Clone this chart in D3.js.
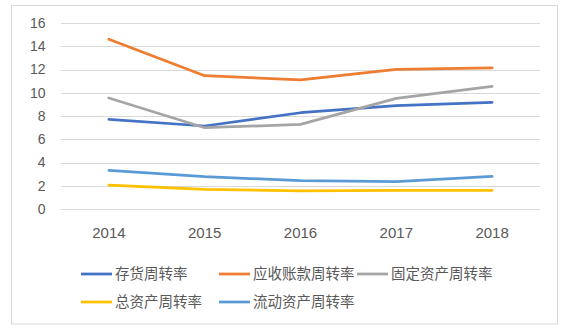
<!DOCTYPE html>
<html><head><meta charset="utf-8">
<script src="https://cdn.jsdelivr.net/npm/d3@7"></script>
<style>
html,body{margin:0;padding:0;background:#fff;}
svg{display:block;font-family:"Liberation Sans","Noto Sans CJK SC",sans-serif;}
</style></head>
<body><svg id="c" width="579" height="331"></svg>
<script>
const years = ["2014","2015","2016","2017","2018"];
const seriesNames = ["存货周转率","应收账款周转率","固定资产周转率","总资产周转率","流动资产周转率"];
const inventory = [7.72, 7.14, 8.28, 8.89, 9.18];
const receivables = [14.6, 11.47, 11.1, 12.02, 12.13];
const fixedAssets = [9.55, 6.99, 7.28, 9.52, 10.55];
const totalAssets = [2.06, 1.69, 1.55, 1.6, 1.6];
const currentAssets = [3.33, 2.78, 2.44, 2.35, 2.81];
const colors = ["#4472C4","#ED7D31","#A5A5A5","#FFC000","#5B9BD5"];
const yTicks = [0,2,4,6,8,10,12,14,16];

const series = [inventory, receivables, fixedAssets, totalAssets, currentAssets];
const svg = d3.select("#c");
svg.append("rect").attr("x",11.5).attr("y",5.5).attr("width",546).attr("height",318.5)
  .attr("fill","#fff").attr("stroke","#d9d9d9").attr("stroke-width",1);

const x = d3.scaleBand().domain(years).range([61,540]);
const y = d3.scaleLinear().domain([0,16]).range([209,23]);

const g = svg.append("g");
g.selectAll("line.grid").data(yTicks).join("line")
  .attr("x1",61).attr("x2",540)
  .attr("y1",d=>Math.round(y(d))+0.5).attr("y2",d=>Math.round(y(d))+0.5)
  .attr("stroke","#d9d9d9").attr("stroke-width",1);

const yAxis = d3.axisLeft(y).tickValues(yTicks).tickSize(0).tickPadding(0);
const ya = svg.append("g").attr("transform","translate(45.5,0)").call(yAxis);
ya.select(".domain").remove();
ya.selectAll("text").attr("fill","#595959").style("font-size","14px");

const xAxis = d3.axisBottom(x).tickSize(0).tickPadding(0);
const xa = svg.append("g").attr("transform","translate(0,227)").call(xAxis);
xa.select(".domain").remove();
xa.selectAll("text").attr("fill","#595959").style("font-size","15px");

const line = d3.line().x((d,i)=>x(years[i])+x.bandwidth()/2).y(d=>y(d));
series.forEach((s,i)=>{
  svg.append("path").datum(s).attr("d",line).attr("fill","none")
    .attr("stroke",colors[i]).attr("stroke-width",2.75).attr("stroke-linejoin","round").attr("stroke-linecap","round");
});

const leg = svg.append("g");
seriesNames.forEach((n,i)=>{
  const col = i%3, row = Math.floor(i/3);
  const lx = 81 + col*138, ly = 274 + row*28;
  leg.append("line").attr("x1",lx).attr("x2",lx+31).attr("y1",ly).attr("y2",ly)
    .attr("stroke",colors[i]).attr("stroke-width",2.75);
  leg.append("text").attr("x",lx+34).attr("y",ly).attr("dy","0.36em")
    .attr("fill","#595959").style("font-size","14.5px").text(n);
});
</script></body></html>
